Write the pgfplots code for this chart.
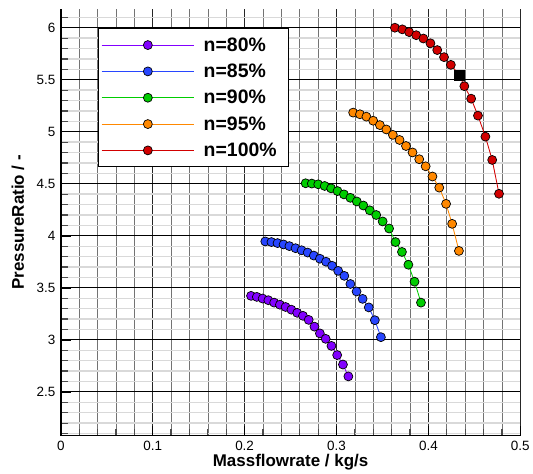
\documentclass[border=0pt]{standalone}
\usepackage{pgfplots}
\pgfplotsset{compat=1.18}
\usepackage{fontspec}
\setmainfont{Liberation Sans}
\definecolor{c80}{RGB}{130,0,255}
\definecolor{c85}{RGB}{40,70,255}
\definecolor{c90}{RGB}{0,205,0}
\definecolor{c95}{RGB}{255,136,0}
\definecolor{c100}{RGB}{210,0,0}
\pgfplotsset{ser/.style={color=#1, line width=0.85pt, mark=*, mark size=4.5pt,
    mark options={draw=black, fill=#1, line width=0.7pt}}}
\begin{document}
\begin{tikzpicture}
\begin{axis}[
  scale only axis, width=461pt, height=428pt,
  xmin=0, xmax=0.5, ymin=2.08, ymax=6.18,
  axis x line*=bottom, axis y line*=left,
  axis line style={-, black, line width=1.8pt},
  xtick={0,0.1,0.2,0.3,0.4,0.5},
  ytick={2.5,3,3.5,4,4.5,5,5.5,6},
  minor xtick={0.02,0.04,0.06,0.08,0.12,0.14,0.16,0.18,0.22,0.24,0.26,0.28,0.32,0.34,0.36,0.38,0.42,0.44,0.46,0.48},
  minor ytick={2.1,2.2,2.3,2.4,2.6,2.7,2.8,2.9,3.1,3.2,3.3,3.4,3.6,3.7,3.8,3.9,4.1,4.2,4.3,4.4,4.6,4.7,4.8,4.9,5.1,5.2,5.3,5.4,5.6,5.7,5.8,5.9,6.1},
  grid=both,
  major x grid style={black!85, line width=0.7pt},
  minor x grid style={black!55, line width=0.7pt},
  major y grid style={black, line width=0.8pt},
  minor y grid style={black!15, line width=1.4pt},
  tick align=inside,
  major tick length=10pt, minor tick length=7pt,
  major tick style={black, line width=1.4pt},
  minor tick style={black!70, line width=1.2pt},
  tick label style={font=\fontsize{13.5}{15}\selectfont},
  xticklabel style={yshift=-2pt},
  yticklabel style={xshift=-2pt},
  /pgf/number format/assume math mode=true,
  /pgf/number format/.cd, fixed, precision=1,
  /pgfplots/.cd,
  xlabel={Massflowrate / kg/s},
  ylabel={PressureRatio / -},
  label style={font=\bfseries\fontsize{17}{19}\selectfont},
  xlabel style={at={([yshift=-31pt]rel axis cs:0.5,0)}, anchor=base},
  ylabel style={at={([xshift=-43pt]rel axis cs:0,0.5)}, anchor=center, rotate=0},
  legend cell align=left,
  legend image code/.code={%
    \draw[#1, mark=none, line width=1.1pt] (0pt,0pt) -- (93pt,0pt);
    \draw[#1, only marks] plot coordinates {(46.5pt,0pt)};},
  legend style={at={(rel axis cs:0.08,0.955)}, anchor=north west,
    draw=black, line width=0.8pt, fill=white,
    font=\bfseries\fontsize{19.5}{21}\selectfont,
    row sep=7.3pt, inner xsep=3pt, inner ysep=7pt,
    nodes={inner xsep=9pt}},
]
\addplot[ser=c80] coordinates {
(0.2070,3.423)(0.2133,3.413)(0.2196,3.397)(0.2258,3.381)(0.2321,3.358)(0.2384,3.338)
(0.2446,3.316)(0.2509,3.290)(0.2572,3.260)(0.2635,3.231)(0.2697,3.192)(0.2760,3.127)
(0.2819,3.062)(0.2882,3.010)(0.2945,2.942)(0.3007,2.854)(0.3070,2.763)(0.3129,2.649)};
\addlegendentry{n=80\%}
\addplot[ser=c85] coordinates {
(0.2225,3.946)(0.2292,3.940)(0.2358,3.930)(0.2424,3.917)(0.2487,3.901)(0.2554,3.881)
(0.2620,3.861)(0.2686,3.839)(0.2753,3.810)(0.2819,3.780)(0.2886,3.751)(0.2952,3.712)
(0.3018,3.663)(0.3085,3.615)(0.3151,3.537)(0.3218,3.465)(0.3284,3.394)(0.3351,3.312)
(0.3417,3.189)(0.3483,3.026)};
\addlegendentry{n=85\%}
\addplot[ser=c90] coordinates {
(0.2664,4.505)(0.2731,4.502)(0.2801,4.495)(0.2871,4.479)(0.2941,4.456)(0.3011,4.430)
(0.3081,4.398)(0.3151,4.365)(0.3221,4.330)(0.3292,4.291)(0.3362,4.245)(0.3432,4.200)
(0.3502,4.138)(0.3572,4.070)(0.3642,3.940)(0.3712,3.845)(0.3782,3.722)(0.3849,3.559)
(0.3919,3.358)};
\addlegendentry{n=90\%}
\addplot[ser=c95] coordinates {
(0.3181,5.184)(0.3255,5.168)(0.3325,5.145)(0.3399,5.106)(0.3472,5.064)(0.3542,5.022)
(0.3613,4.970)(0.3686,4.921)(0.3756,4.863)(0.3827,4.801)(0.3900,4.736)(0.3970,4.668)
(0.4044,4.570)(0.4118,4.463)(0.4192,4.307)(0.4258,4.115)(0.4332,3.855)};
\addlegendentry{n=95\%}
\addplot[ser=c100] coordinates {
(0.3635,6.000)(0.3716,5.984)(0.3790,5.958)(0.3867,5.928)(0.3945,5.896)(0.4022,5.850)
(0.4096,5.785)(0.4170,5.717)(0.4244,5.643)(0.4336,5.545)(0.4391,5.438)(0.4465,5.318)
(0.4539,5.155)(0.4620,4.953)(0.4694,4.729)(0.4768,4.404)};
\addlegendentry{n=100\%}
\addplot[black, only marks, mark=square*, mark size=5pt, mark options={draw=black, fill=black}, forget plot] coordinates {(0.4336,5.545)};
\end{axis}
\path (current axis.south west) ++(-61pt,-33pt);
\path (current axis.north east) ++(11pt,9pt);
\end{tikzpicture}
\end{document}
